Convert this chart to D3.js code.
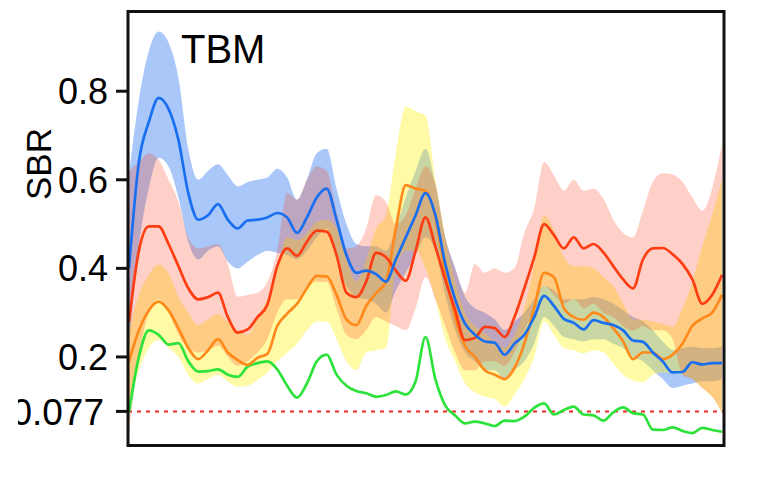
<!DOCTYPE html>
<html>
<head>
<meta charset="utf-8">
<script src="https://cdn.jsdelivr.net/npm/d3@7"></script>
<style>
  html, body { margin: 0; padding: 0; background: #fff; }
  svg { display: block; background: #fff; }
  text { font-family: "Liberation Sans", Arial, sans-serif; fill: #000; }
</style>
</head>
<body>
<svg id="chart" width="759" height="482"></svg>
<script>
// Sample positions along the time axis (61 evenly spaced samples)
const samples = d3.range(61);

// Blue group: mean SBR and confidence band
const blueMean  = [0.40,0.64,0.73,0.785,0.76,0.69,0.57,0.51,0.52,0.545,0.51,0.49,0.508,0.51,0.515,0.525,0.515,0.48,0.515,0.56,0.58,0.51,0.43,0.39,0.395,0.387,0.37,0.42,0.47,0.52,0.57,0.52,0.41,0.33,0.275,0.25,0.235,0.232,0.205,0.23,0.25,0.29,0.338,0.315,0.286,0.277,0.262,0.283,0.277,0.272,0.26,0.237,0.234,0.21,0.19,0.165,0.166,0.188,0.183,0.186,0.186];
const blueUpper = [0.61,0.78,0.89,0.935,0.91,0.83,0.67,0.60,0.62,0.635,0.61,0.585,0.595,0.60,0.605,0.625,0.605,0.555,0.60,0.66,0.67,0.58,0.50,0.455,0.45,0.45,0.44,0.49,0.56,0.62,0.67,0.59,0.47,0.40,0.336,0.31,0.30,0.285,0.261,0.28,0.30,0.33,0.36,0.35,0.33,0.33,0.33,0.336,0.33,0.32,0.306,0.29,0.28,0.26,0.235,0.216,0.22,0.223,0.22,0.22,0.223];
const blueLower = [0.22,0.45,0.58,0.65,0.63,0.56,0.46,0.42,0.44,0.45,0.415,0.40,0.415,0.43,0.44,0.435,0.43,0.42,0.44,0.47,0.49,0.42,0.36,0.335,0.33,0.32,0.30,0.35,0.39,0.43,0.47,0.44,0.34,0.26,0.21,0.19,0.17,0.17,0.15,0.17,0.19,0.23,0.29,0.27,0.245,0.24,0.235,0.24,0.24,0.23,0.22,0.20,0.19,0.17,0.15,0.13,0.135,0.14,0.145,0.145,0.15];

// Red group
const redMean  = [0.28,0.44,0.495,0.495,0.455,0.405,0.355,0.33,0.335,0.345,0.29,0.255,0.262,0.29,0.318,0.405,0.445,0.428,0.46,0.485,0.483,0.43,0.345,0.335,0.37,0.435,0.425,0.395,0.372,0.44,0.515,0.449,0.374,0.306,0.238,0.243,0.268,0.265,0.245,0.29,0.355,0.425,0.50,0.475,0.445,0.47,0.445,0.455,0.436,0.405,0.375,0.355,0.42,0.445,0.446,0.432,0.41,0.375,0.32,0.34,0.385];
const redUpper = [0.62,0.64,0.66,0.645,0.60,0.55,0.47,0.445,0.45,0.455,0.41,0.336,0.34,0.345,0.37,0.44,0.57,0.555,0.60,0.63,0.62,0.53,0.445,0.45,0.49,0.565,0.55,0.50,0.52,0.58,0.63,0.59,0.47,0.40,0.345,0.41,0.39,0.40,0.39,0.40,0.48,0.535,0.64,0.61,0.575,0.60,0.575,0.58,0.557,0.51,0.48,0.47,0.53,0.595,0.615,0.612,0.595,0.56,0.53,0.58,0.68];
const redLower = [0.03,0.20,0.30,0.33,0.30,0.25,0.22,0.21,0.215,0.225,0.20,0.18,0.19,0.21,0.24,0.30,0.33,0.33,0.36,0.37,0.37,0.31,0.25,0.24,0.26,0.29,0.28,0.27,0.26,0.31,0.38,0.33,0.27,0.21,0.17,0.17,0.19,0.19,0.18,0.21,0.26,0.31,0.36,0.34,0.32,0.33,0.31,0.32,0.30,0.29,0.27,0.26,0.27,0.26,0.26,0.24,0.16,0.15,0.13,0.11,0.075];

// Orange group (line) with its yellow band
const orangeMean  = [0.19,0.26,0.305,0.325,0.305,0.265,0.22,0.195,0.215,0.24,0.21,0.193,0.182,0.198,0.207,0.27,0.298,0.32,0.355,0.383,0.382,0.34,0.285,0.272,0.315,0.344,0.37,0.49,0.588,0.58,0.575,0.515,0.39,0.29,0.225,0.20,0.17,0.16,0.15,0.175,0.23,0.31,0.39,0.38,0.31,0.29,0.284,0.30,0.29,0.265,0.235,0.195,0.21,0.21,0.195,0.205,0.23,0.27,0.287,0.30,0.34];
const orangeUpper = [0.26,0.34,0.385,0.408,0.389,0.336,0.30,0.272,0.285,0.297,0.28,0.26,0.25,0.29,0.33,0.40,0.47,0.464,0.48,0.505,0.51,0.49,0.42,0.37,0.42,0.49,0.52,0.66,0.765,0.755,0.745,0.60,0.47,0.37,0.30,0.27,0.254,0.235,0.22,0.25,0.31,0.41,0.52,0.485,0.425,0.405,0.405,0.40,0.38,0.36,0.32,0.285,0.284,0.28,0.275,0.268,0.31,0.37,0.45,0.52,0.60];
const orangeLower = [0.10,0.17,0.22,0.238,0.22,0.20,0.16,0.14,0.15,0.16,0.145,0.133,0.135,0.148,0.165,0.19,0.21,0.23,0.26,0.28,0.28,0.24,0.19,0.17,0.21,0.215,0.22,0.40,0.44,0.44,0.40,0.33,0.24,0.19,0.14,0.12,0.11,0.105,0.088,0.115,0.15,0.20,0.28,0.25,0.22,0.215,0.208,0.215,0.21,0.185,0.16,0.147,0.143,0.16,0.164,0.164,0.16,0.15,0.13,0.11,0.075];

// Green group (mean only)
const greenMean = [0.075,0.20,0.26,0.25,0.228,0.231,0.19,0.167,0.168,0.172,0.16,0.155,0.178,0.186,0.19,0.172,0.135,0.108,0.14,0.19,0.205,0.16,0.135,0.123,0.118,0.11,0.114,0.122,0.115,0.145,0.245,0.15,0.09,0.068,0.05,0.054,0.05,0.044,0.056,0.055,0.065,0.085,0.095,0.07,0.08,0.088,0.07,0.068,0.056,0.075,0.086,0.073,0.07,0.036,0.035,0.041,0.033,0.028,0.04,0.035,0.031];

// Y-axis ticks and the reference threshold
const tickValues = [0.8, 0.6, 0.4, 0.2, 0.077];
const tickLabels = ["0.8", "0.6", "0.4", "0.2", "0.077"];
const threshold = 0.077;
const panelTitle = "TBM";
const yTitle = "SBR";

const svg = d3.select("#chart");
const frame = { left: 128, right: 724, top: 11.5, bottom: 445.5 };

const x = d3.scaleLinear().domain([0, 60]).range([129, 722]);
const y = d3.scaleLinear().domain([0, 0.98]).range([frame.bottom, frame.top]);

const defs = svg.append("defs");
defs.append("clipPath").attr("id", "plotClip")
  .append("rect")
  .attr("x", frame.left).attr("y", frame.top)
  .attr("width", frame.right - frame.left).attr("height", frame.bottom - frame.top);
defs.append("clipPath").attr("id", "labelClip")
  .append("rect").attr("x", 18).attr("y", 0).attr("width", 100).attr("height", 482);

const plot = svg.append("g").attr("clip-path", "url(#plotClip)");

// Translucent bands: blue first, then yellow, then pink on top
const bands = [
  { lo: blueLower,   hi: blueUpper,   fill: "rgb(30,110,240)", alpha: 0.38 },
  { lo: orangeLower, hi: orangeUpper, fill: "rgb(255,240,0)",  alpha: 0.35 },
  { lo: redLower,    hi: redUpper,    fill: "rgb(255,60,20)",  alpha: 0.24 }
];

bands.forEach(b => {
  const area = d3.area()
    .x(i => x(i))
    .y0(i => y(b.lo[i]))
    .y1(i => y(b.hi[i]))
    .curve(d3.curveMonotoneX);
  plot.append("path")
    .datum(samples)
    .attr("d", area)
    .attr("fill", b.fill)
    .attr("fill-opacity", b.alpha);
});

// threshold line
plot.append("line")
  .attr("x1", frame.left).attr("x2", frame.right)
  .attr("y1", y(threshold)).attr("y2", y(threshold))
  .attr("stroke", "#f02828").attr("stroke-width", 2)
  .attr("stroke-dasharray", "4,5");

const lines = [
  { v: greenMean,  color: "#2ee23c" },
  { v: orangeMean, color: "#ff8a1c" },
  { v: redMean,    color: "#ff3d12" },
  { v: blueMean,   color: "#1a6ef0" }
];

lines.forEach(l => {
  const line = d3.line()
    .x(i => x(i))
    .y(i => y(l.v[i]))
    .curve(d3.curveMonotoneX);
  plot.append("path")
    .datum(samples)
    .attr("d", line)
    .attr("fill", "none")
    .attr("stroke", l.color)
    .attr("stroke-width", 2.7)
    .attr("stroke-linejoin", "round");
});

// Frame
svg.append("rect")
  .attr("x", frame.left).attr("y", frame.top)
  .attr("width", frame.right - frame.left).attr("height", frame.bottom - frame.top)
  .attr("fill", "none").attr("stroke", "#111").attr("stroke-width", 3);

// Y axis ticks and labels
const axis = svg.append("g");
tickValues.forEach(v => {
  axis.append("line")
    .attr("x1", 116).attr("x2", frame.left)
    .attr("y1", y(v)).attr("y2", y(v))
    .attr("stroke", "#111").attr("stroke-width", 3);
});

tickValues.forEach((v, k) => {
  const isThreshold = v === threshold;
  axis.append("text")
    .attr("x", isThreshold ? 104 : 108)
    .attr("y", y(v))
    .attr("dy", "0.36em")
    .attr("text-anchor", "end")
    .attr("clip-path", "url(#labelClip)")
    .style("font-size", isThreshold ? "37px" : "36px")
    .text(tickLabels[k]);
});

// Axis title
svg.append("text")
  .attr("transform", "translate(51,164) rotate(-90)")
  .attr("text-anchor", "middle")
  .style("font-size", "35px")
  .text(yTitle);

// Panel title
svg.append("text")
  .attr("x", 181).attr("y", 63)
  .style("font-size", "40px")
  .text(panelTitle);
</script>
</body>
</html>
